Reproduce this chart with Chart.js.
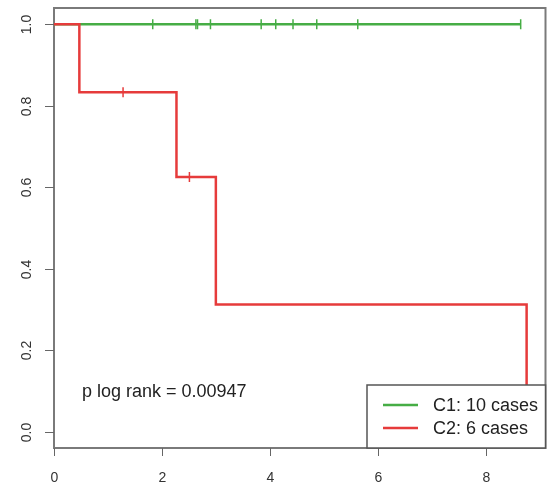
<!DOCTYPE html>
<html>
<head>
<meta charset="utf-8">
<script src="https://cdn.jsdelivr.net/npm/chart.js@4.4.1/dist/chart.umd.min.js"></script>
<style>
  html, body { margin: 0; padding: 0; background: #fff; }
  #wrap { width: 552px; height: 488px; }
</style>
</head>
<body>
<div id="wrap"><canvas id="km" width="552" height="488"></canvas></div>
<script>
// Kaplan-Meier curves
const c2Times = [0, 0.47, 2.27, 3.0, 8.76];
const c2Surv = [1.0, 0.833, 0.625, 0.3125, 0.0];
const c2CensorTimes = [1.28, 2.51];
const c2CensorSurv = [0.833, 0.625];

const c1Times = [0, 8.65];
const c1Surv = [1.0, 1.0];
const c1CensorTimes = [1.83, 2.63, 2.66, 2.9, 3.84, 4.11, 4.43, 4.87, 5.63, 8.65];

const xTicks = [0, 2, 4, 6, 8];
const yTicks = [0, 0.2, 0.4, 0.6, 0.8, 1.0];
const yTickLabels = ['0.0', '0.2', '0.4', '0.6', '0.8', '1.0'];

const legendLabels = ['C1: 10 cases', 'C2: 6 cases'];
const pText = 'p log rank = 0.00947';

const GREEN = '#46ad45';
const RED = '#e63b3b';
const FONT = '"Liberation Sans", Arial, sans-serif';

const toPoints = (xs, ys) => xs.map((x, i) => ({ x, y: ys[i] }));

// R style axes, box, legend and annotation
const rDecor = {
  id: 'rDecor',
  beforeDatasetsDraw(chart) {
    const { ctx, chartArea: a, scales: { x, y } } = chart;
    ctx.save();
    ctx.strokeStyle = '#7a7a7a';
    ctx.lineWidth = 2;
    ctx.strokeRect(a.left, a.top, a.right - a.left, a.bottom - a.top);

    ctx.strokeStyle = '#666';
    ctx.lineWidth = 1;
    ctx.fillStyle = '#333';
    ctx.font = '14px ' + FONT;
    ctx.textAlign = 'center';
    ctx.textBaseline = 'middle';
    xTicks.forEach(v => {
      const px = Math.round(x.getPixelForValue(v)) + 0.5;
      ctx.beginPath();
      ctx.moveTo(px, a.bottom);
      ctx.lineTo(px, a.bottom + 8);
      ctx.stroke();
      ctx.fillText(String(v), px, 478);
    });
    yTicks.forEach((v, i) => {
      const py = Math.round(y.getPixelForValue(v)) + 0.5;
      ctx.beginPath();
      ctx.moveTo(a.left - 9, py);
      ctx.lineTo(a.left, py);
      ctx.stroke();
      ctx.save();
      ctx.translate(27, py);
      ctx.rotate(-Math.PI / 2);
      ctx.fillText(yTickLabels[i], 0, 0);
      ctx.restore();
    });
    ctx.restore();
  },
  afterDatasetsDraw(chart) {
    const { ctx, chartArea: a } = chart;
    ctx.save();
    ctx.fillStyle = '#222';
    ctx.font = '18px ' + FONT;
    ctx.textAlign = 'left';
    ctx.textBaseline = 'alphabetic';
    ctx.fillText(pText, 82, 397);

    // legend box at bottom right
    const lx = 367, ly = 385, lw = a.right - lx, lh = a.bottom - ly;
    ctx.fillStyle = '#fff';
    ctx.fillRect(lx, ly, lw, lh);
    ctx.strokeStyle = '#555';
    ctx.lineWidth = 1.5;
    ctx.strokeRect(lx, ly, lw, lh);
    const colors = [GREEN, RED];
    const rows = [405, 428];
    legendLabels.forEach((t, i) => {
      ctx.strokeStyle = colors[i];
      ctx.lineWidth = 2.5;
      ctx.beginPath();
      ctx.moveTo(383, rows[i]);
      ctx.lineTo(418, rows[i]);
      ctx.stroke();
      ctx.fillStyle = '#222';
      ctx.textBaseline = 'middle';
      ctx.fillText(t, 433, rows[i] + 1);
    });
    ctx.restore();
  }
};

new Chart(document.getElementById('km'), {
  type: 'line',
  data: {
    datasets: [
      {
        label: 'C2',
        data: toPoints(c2Times, c2Surv),
        borderColor: RED,
        borderWidth: 2.5,
        stepped: 'before',
        pointRadius: 0,
        fill: false
      },
      {
        label: 'C2 censored',
        data: toPoints(c2CensorTimes, c2CensorSurv),
        showLine: false,
        pointStyle: 'line',
        rotation: 90,
        pointRadius: 5,
        borderColor: RED,
        borderWidth: 1.5
      },
      {
        label: 'C1',
        data: toPoints(c1Times, c1Surv),
        borderColor: GREEN,
        borderWidth: 2.5,
        stepped: 'before',
        pointRadius: 0,
        fill: false
      },
      {
        label: 'C1 censored',
        data: c1CensorTimes.map(t => ({ x: t, y: 1.0 })),
        showLine: false,
        pointStyle: 'line',
        rotation: 90,
        pointRadius: 5,
        borderColor: GREEN,
        borderWidth: 1.5
      }
    ]
  },
  options: {
    responsive: false,
    animation: false,
    devicePixelRatio: 1,
    layout: { padding: { left: 54, top: 8, right: 4, bottom: 40 } },
    scales: {
      x: { type: 'linear', min: 0, max: 9.11, display: false },
      y: { type: 'linear', min: -0.04, max: 1.04, display: false }
    },
    plugins: {
      legend: { display: false },
      tooltip: { enabled: false }
    }
  },
  plugins: [rDecor]
});
</script>
</body>
</html>
